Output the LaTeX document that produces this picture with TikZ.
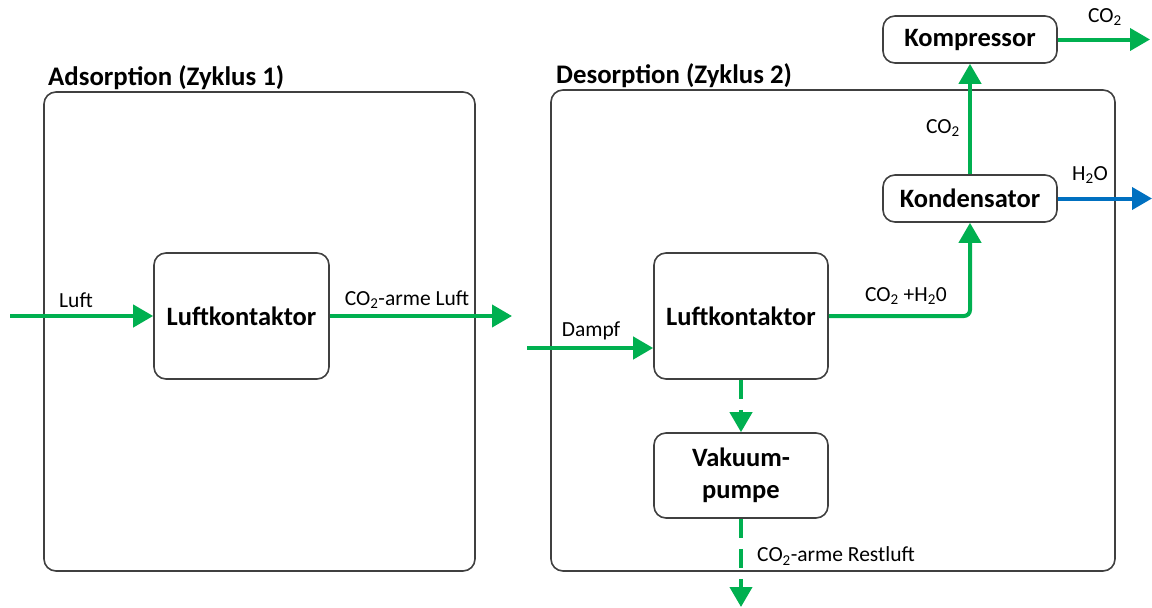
\documentclass[tikz,border=0pt]{standalone}
\usepackage{fontspec}
\setmainfont{Carlito}
\usetikzlibrary{arrows.meta,calc}
\definecolor{flowgreen}{HTML}{00B050}
\definecolor{flowblue}{HTML}{0070C0}
\definecolor{boxgray}{HTML}{404040}
\tikzset{
  stage/.style={draw=boxgray,line width=1.6pt,rounded corners=12pt},
  unit/.style={draw=boxgray,line width=1.6pt,rounded corners=12pt,align=center,
    font=\fontsize{26.5}{32}\selectfont\bfseries,inner sep=0pt},
  title/.style={anchor=base west,font=\fontsize{26.8}{30}\selectfont\bfseries,inner sep=0pt},
  lbl/.style={font=\fontsize{21.5}{24}\selectfont,inner sep=0pt},
  flow/.style={draw=flowgreen,line width=4pt,-{Triangle[length=20pt,width=22pt]}},
  wflow/.style={draw=flowblue,line width=4pt,-{Triangle[length=20pt,width=22pt]}},
  dflow/.style={flow,dash pattern=on 19pt off 11pt},
}
\begin{document}
\begin{tikzpicture}[x=1pt,y=-1pt]
\useasboundingbox (0,0) rectangle (1152,608);
% stage frames
\node[stage,minimum width=431pt,minimum height=479pt] (ads) at (259.5,331.5) {};
\node[stage,minimum width=564pt,minimum height=481pt] (des) at (833,330.5) {};
\node[title] (adst) at (48,85) {Adsorption (Zyklus 1)};
\node[title] (dest) at (556,83) {Desorption (Zyklus 2)};
% units
\node[unit,minimum width=175pt,minimum height=126pt] (lk1) at (241.5,316) {Luftkontaktor};
\node[unit,minimum width=174pt,minimum height=126pt] (lk2) at (741,316) {Luftkontaktor};
\node[unit,minimum width=174pt,minimum height=47pt] (komp) at (970,39.5) {Kompressor};
\node[unit,minimum width=174pt,minimum height=47pt] (kond) at (970,198.5) {Kondensator};
\node[unit,minimum width=174pt,minimum height=85pt] (vak) at (741,475.5) {Vakuum-\\pumpe};
% free ends
\coordinate (luftin) at (10,316);
\coordinate (luftout) at (512,316);
\coordinate (dampfin) at (527,348);
\coordinate (co2out) at (1150,39.5);
\coordinate (h2oout) at (1152,198.5);
\coordinate (restout) at (741,607);
% flows
\draw[flow] (luftin) -- (lk1.west);
\draw[flow] (lk1.east) -- (luftout);
\draw[flow] (dampfin) -- (dampfin -| lk2.west);
\draw[flow,rounded corners=6pt] (lk2.east) -| (kond.south);
\draw[flow] (kond.north) -- (komp.south);
\draw[flow] (komp.east) -- (co2out);
\draw[wflow] (kond.east) -- (h2oout);
\draw[dflow] (lk2.south) -- (vak.north);
\draw[dflow] (vak.south) -- (restout);
% labels
\node[lbl] (l1) at (76,300) {Luft};
\node[lbl] (l2) at (407,300) {CO\textsubscript{2}-arme Luft};
\node[lbl] (l3) at (591,331) {Dampf};
\node[lbl] (l4) at (906,296) {CO\textsubscript{2} +H\textsubscript{2}0};
\node[lbl] (l5) at (943,128) {CO\textsubscript{2}};
\node[lbl] (l6) at (1105,17) {CO\textsubscript{2}};
\node[lbl] (l7) at (1090,175) {H\textsubscript{2}O};
\node[lbl] (l8) at (836,556) {CO\textsubscript{2}-arme Restluft};
\end{tikzpicture}
\end{document}
